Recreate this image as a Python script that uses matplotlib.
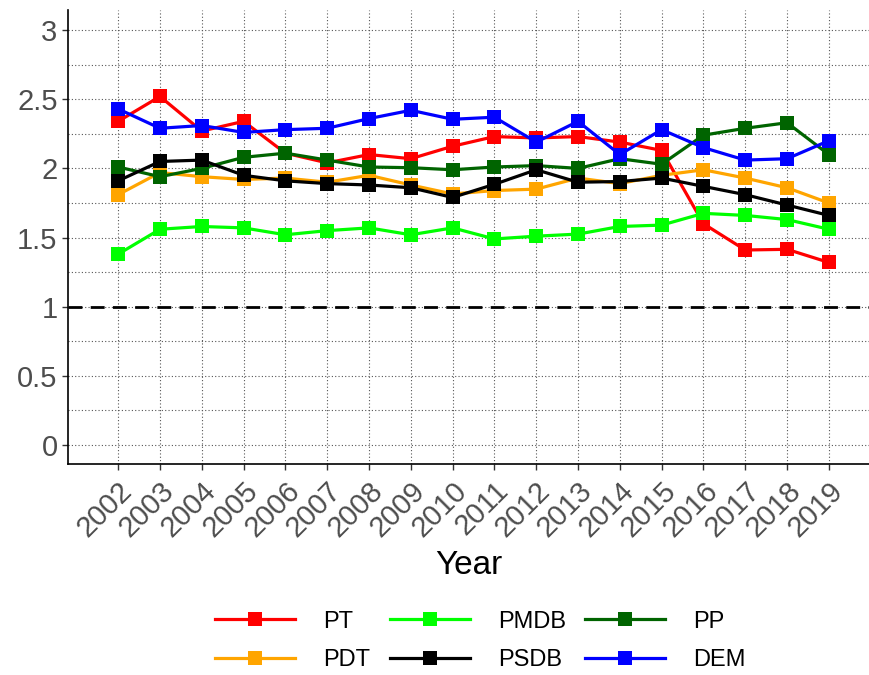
import matplotlib
matplotlib.use("Agg")
import matplotlib.pyplot as plt
import numpy as np

plt.rcParams['font.family'] = ['Liberation Sans', 'DejaVu Sans']

years = list(range(2002, 2020))
pt   = [2.34, 2.52, 2.27, 2.34, 2.11, 2.04, 2.10, 2.07, 2.16, 2.23, 2.22, 2.23, 2.19, 2.13, 1.60, 1.41, 1.415, 1.32]
pdt  = [1.81, 1.97, 1.94, 1.92, 1.93, 1.90, 1.95, 1.88, 1.815, 1.84, 1.85, 1.93, 1.89, 1.95, 1.99, 1.93, 1.86, 1.75]
pmdb = [1.38, 1.56, 1.58, 1.57, 1.52, 1.55, 1.57, 1.52, 1.57, 1.49, 1.51, 1.525, 1.58, 1.59, 1.675, 1.66, 1.63, 1.56]
psdb = [1.91, 2.05, 2.06, 1.95, 1.91, 1.89, 1.88, 1.86, 1.79, 1.885, 1.99, 1.90, 1.905, 1.93, 1.87, 1.81, 1.735, 1.66]
pp   = [2.01, 1.94, 2.00, 2.08, 2.11, 2.06, 2.01, 2.005, 1.99, 2.01, 2.02, 2.00, 2.07, 2.03, 2.24, 2.29, 2.33, 2.10]
dem  = [2.43, 2.29, 2.31, 2.26, 2.28, 2.29, 2.36, 2.42, 2.355, 2.37, 2.19, 2.34, 2.10, 2.28, 2.15, 2.06, 2.07, 2.20]

series = [("PT", pt, "#FF0000"), ("PDT", pdt, "#FFA500"), ("PMDB", pmdb, "#00FF00"),
          ("PSDB", psdb, "#000000"), ("PP", pp, "#006400"), ("DEM", dem, "#0000FF")]
draw_order = ["PT", "PDT", "PMDB", "PP", "PSDB", "DEM"]

fig = plt.figure(figsize=(8.69, 6.75), dpi=100)
ax = fig.add_axes([68/869, 1-464/675, 1-68/869, (464-10)/675])

handles = {}
for name in draw_order:
    vals, col = [(v, c) for n, v, c in series if n == name][0]
    h, = ax.plot(years, vals, color=col, lw=2.3, marker='s', markersize=10,
                 markeredgewidth=0, label=name, zorder=3)
    handles[name] = h

ax.axhline(1, color='black', lw=2, linestyle=(0, (5, 3)), zorder=2)

ax.set_xlim(2000.8, 2019.96)
ax.set_ylim(-0.137, 3.145)
ax.set_yticks([0, 0.5, 1, 1.5, 2, 2.5, 3])
ax.set_yticklabels(["0", "0.5", "1", "1.5", "2", "2.5", "3"])
ax.set_yticks(np.arange(0.25, 3.0, 0.5), minor=True)
ax.set_xticks(years)
ax.set_xticklabels([str(y) for y in years], rotation=45, ha='right', va='top',
                   rotation_mode='anchor')

ax.grid(True, which='major', axis='both', color='#555555', lw=0.8, linestyle=(0, (1, 2)), zorder=0)
ax.grid(True, which='minor', axis='y', color='#555555', lw=0.8, linestyle=(0, (1, 2)), zorder=0)
ax.tick_params(axis='both', which='major', labelsize=21, labelcolor='#4D4D4D', length=4, width=1, color='#333333')
ax.tick_params(axis='y', which='minor', length=0)
ax.tick_params(axis='x', pad=5)
for s in ['top', 'right']:
    ax.spines[s].set_visible(False)
for s in ['left', 'bottom']:
    ax.spines[s].set_linewidth(1.2)

ax.set_xlabel("Year", fontsize=24, color='black', labelpad=6)

order = ["PT", "PDT", "PMDB", "PSDB", "PP", "DEM"]
fig.legend([handles[n] for n in order], order, loc='center', bbox_to_anchor=(0.553, 0.0504),
           ncol=3, frameon=False, fontsize=17, handlelength=3.4, handletextpad=1.2,
           columnspacing=0.8, labelspacing=0.7)

fig.savefig("out.png", dpi=100)
